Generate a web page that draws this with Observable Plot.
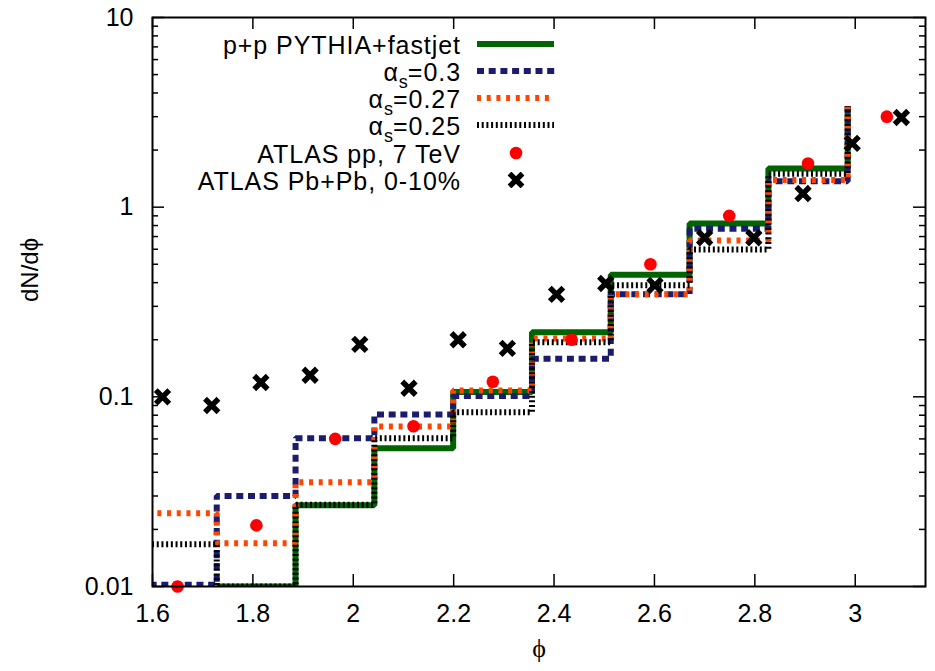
<!DOCTYPE html>
<html>
<head>
<meta charset="utf-8">
<script src="https://cdn.jsdelivr.net/npm/d3@7"></script>
<script src="https://cdn.jsdelivr.net/npm/@observablehq/plot@0.6"></script>
<style>
  body { margin: 0; background: #fff; }
  #wrap { position: relative; width: 935px; height: 671px; font-family: "Liberation Sans", Arial, sans-serif; }
  .lg-text { position: absolute; right: 474px; font-size: 25px; letter-spacing: 0.95px; line-height: 26px; white-space: nowrap; color: #000; transform: translateY(-50%); }
  .lg-text sub { font-size: 18px; vertical-align: -7px; line-height: 0; letter-spacing: 0; }
  .lg-sample { position: absolute; left: 476px; width: 80px; height: 16px; transform: translateY(-50%); }
</style>
</head>
<body>
<div id="wrap"></div>
<script>
// ---- data ----
const binEdges = [1.571, 1.728, 1.885, 2.042, 2.199, 2.356, 2.513, 2.670, 2.827, 2.985];
const pythia  = [null,   0.0100, 0.0268, 0.0535, 0.106, 0.219, 0.44,  0.82,  1.60, 3.4];
const as030   = [0.0102, 0.0300, 0.0605, 0.0808, 0.101, 0.159, 0.347, 0.77,  1.37, 3.4];
const as027   = [0.0243, 0.0169, 0.0354, 0.0698, 0.108, 0.203, 0.347, 0.667, 1.39, 3.4];
const as025   = [0.0167, 0.0100, 0.0270, 0.0605, 0.083, 0.194, 0.387, 0.598, 1.50, 3.4];

const ppPhi   = [1.650, 1.807, 1.964, 2.120, 2.278, 2.435, 2.592, 2.749, 2.906, 3.063];
const ppVal   = [0.010, 0.021, 0.060, 0.070, 0.120, 0.200, 0.500, 0.900, 1.700, 3.000];

const pbPhi   = [1.620, 1.718, 1.816, 1.914, 2.013, 2.111, 2.209, 2.307, 2.405, 2.503, 2.601, 2.700, 2.798, 2.896, 2.994, 3.092];
const pbVal   = [0.100, 0.090, 0.119, 0.130, 0.189, 0.111, 0.200, 0.180, 0.347, 0.396, 0.387, 0.690, 0.690, 1.180, 2.170, 2.970];

const xTicks = [1.6, 1.8, 2.0, 2.2, 2.4, 2.6, 2.8, 3.0];
const xTickLabels = ["1.6", "1.8", "2", "2.2", "2.4", "2.6", "2.8", "3"];
const yTicks = [0.01, 0.1, 1, 10];
const yTickLabels = ["0.01", "0.1", "1", "10"];
const yMinorTicks = [0.02,0.03,0.04,0.05,0.06,0.07,0.08,0.09, 0.2,0.3,0.4,0.5,0.6,0.7,0.8,0.9, 2,3,4,5,6,7,8,9];

const legendLabels = ["p+p PYTHIA+fastjet", "α<sub>s</sub>=0.3", "α<sub>s</sub>=0.27", "α<sub>s</sub>=0.25", "ATLAS pp, 7 TeV", "ATLAS Pb+Pb, 0-10%"];

// ---- layout / style ----
const W = 935, H = 671, mL = 152, mR = 10, mT = 17, mB = 85;
const pw = W - mL - mR, ph = H - mT - mB;
const series = [
  {vals: pythia, stroke: "#006400", dash: null},
  {vals: as030,  stroke: "#1c1c6e", dash: "7,4.7"},
  {vals: as027,  stroke: "#ff4500", dash: "4,5.7"},
  {vals: as025,  stroke: "#000000", dash: "2,2.7"}
];
const rows = v => binEdges.map((x, i) => ({x, y: v[i]}));
const pp = ppPhi.map((x, i) => ({x, y: ppVal[i]}));
const pb = pbPhi.map((x, i) => ({x, y: pbVal[i]}));

const chart = Plot.plot({
  width: W, height: H,
  marginLeft: mL, marginRight: mR, marginTop: mT, marginBottom: mB,
  style: {fontFamily: '"Liberation Sans", Arial, sans-serif', background: "white", color: "black", overflow: "visible"},
  x: {domain: [1.6, 3.14]},
  y: {type: "log", domain: [0.01, 10]},
  marks: [
    // step curves
    ...series.map(s => Plot.line(rows(s.vals), {
      x: "x", y: "y", curve: "step-after", stroke: s.stroke, strokeWidth: 6,
      strokeDasharray: s.dash, strokeLinecap: "butt", strokeLinejoin: "miter", clip: true
    })),
    // data points
    Plot.dot(pp, {x: "x", y: "y", r: 6.3, fill: "#ff0000", stroke: "none"}),
    Plot.dot(pb, {x: "x", y: "y", r: 6.2, symbol: "times", stroke: "#000", strokeWidth: 5.4}),
    // inward ticks
    Plot.ruleY(yTicks, {insetRight: pw - 12, stroke: "#000", strokeWidth: 1.5}),
    Plot.ruleY(yTicks, {insetLeft: pw - 12, stroke: "#000", strokeWidth: 1.5}),
    Plot.ruleY(yMinorTicks, {insetRight: pw - 6, stroke: "#000", strokeWidth: 1.5}),
    Plot.ruleY(yMinorTicks, {insetLeft: pw - 6, stroke: "#000", strokeWidth: 1.5}),
    Plot.ruleX(xTicks, {insetTop: ph - 12, stroke: "#000", strokeWidth: 1.5}),
    Plot.ruleX(xTicks, {insetBottom: ph - 12, stroke: "#000", strokeWidth: 1.5}),
    Plot.frame({stroke: "#000", strokeWidth: 2}),
    // tick labels
    Plot.axisY({ticks: yTicks, tickSize: 0, tickPadding: 19, tickFormat: d => yTickLabels[yTicks.indexOf(d)], label: null, fontSize: 25}),
    Plot.axisX({ticks: xTicks, tickSize: 0, tickPadding: 18, tickFormat: d => xTickLabels[xTicks.findIndex(t => Math.abs(t - d) < 1e-9)], label: null, fontSize: 25}),
    // axis labels
    Plot.text(["dN/dϕ"], {frameAnchor: "left", dx: -122, rotate: -90, fontSize: 24, fill: "#000"}),
    Plot.text(["ϕ"], {frameAnchor: "bottom", dy: 70, fontSize: 26, fill: "#000", fontFamily: '"Liberation Serif", serif'})
  ]
});
const wrap = document.getElementById("wrap");
wrap.appendChild(chart);

// ---- legend (HTML overlay) ----
const rowY = i => 43.5 + i * 27.3;
const samples = [
  '<line x1="1" y1="8" x2="78" y2="8" stroke="#006400" stroke-width="6"/>',
  '<line x1="1" y1="8" x2="79" y2="8" stroke="#1c1c6e" stroke-width="6" stroke-dasharray="7,4.7"/>',
  '<line x1="1" y1="8" x2="78" y2="8" stroke="#ff4500" stroke-width="6" stroke-dasharray="4,5.7"/>',
  '<line x1="1" y1="8" x2="78" y2="8" stroke="#000" stroke-width="6" stroke-dasharray="2,2.7"/>',
  '<circle cx="40" cy="8" r="6.3" fill="#ff0000"/>',
  '<path d="M33.5,1.5L46.5,14.5M33.5,14.5L46.5,1.5" stroke="#000" stroke-width="5.4"/>'
];
legendLabels.forEach((lab, i) => {
  const t = document.createElement("div");
  t.className = "lg-text";
  t.style.top = (rowY(i) + 1) + "px";
  t.innerHTML = lab;
  wrap.appendChild(t);
  const s = document.createElement("div");
  s.className = "lg-sample";
  s.style.top = rowY(i) + "px";
  s.innerHTML = '<svg width="80" height="16" viewBox="0 0 80 16">' + samples[i] + '</svg>';
  wrap.appendChild(s);
});
</script>
</body>
</html>
